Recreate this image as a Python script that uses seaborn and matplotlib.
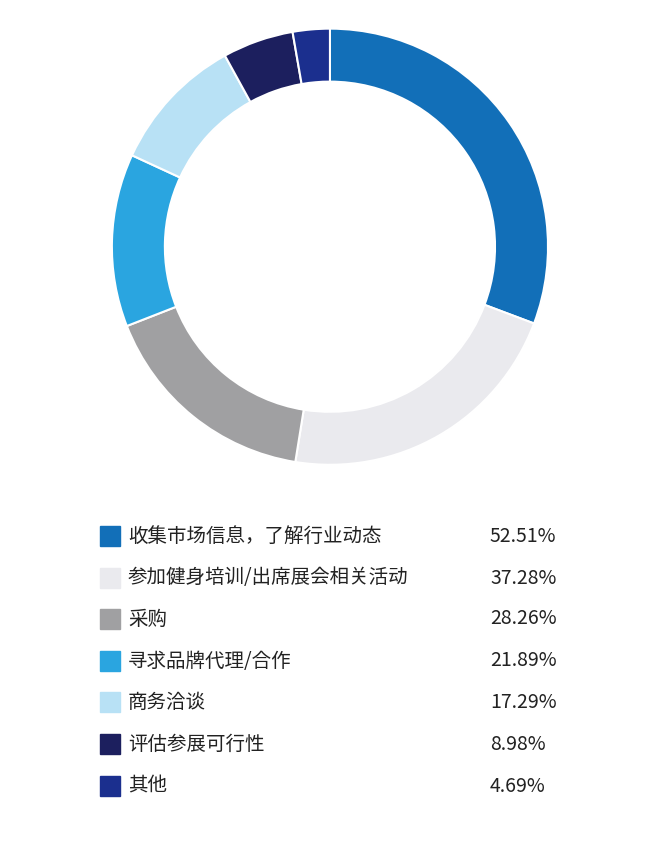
import matplotlib
matplotlib.use("Agg")
import glob
import matplotlib.pyplot as plt
import matplotlib.patches as mpatches
from matplotlib import font_manager
import seaborn as sns

categories = ["收集市场信息，了解行业动态", "参加健身培训/出席展会相关活动", "采购",
              "寻求品牌代理/合作", "商务洽谈", "评估参展可行性", "其他"]
values = [52.51, 37.28, 28.26, 21.89, 17.29, 8.98, 4.69]
labels = ["52.51%", "37.28%", "28.26%", "21.89%", "17.29%", "8.98%", "4.69%"]
colors = sns.color_palette(["#126fb8", "#eaeaee", "#a0a0a2", "#2aa5e0",
                            "#b8e1f5", "#1c1f5e", "#1b2f8e"])

sns.set_theme(style="white")
cjk_files = [f for f in glob.glob("/usr/share/fonts/**/*CJK*", recursive=True)
             if f.lower().endswith((".ttc", ".otf", ".ttf"))]
for f in cjk_files:
    try:
        font_manager.fontManager.addfont(f)
    except Exception:
        pass
fam = ["Noto Sans CJK SC", "Noto Sans CJK JP", "Noto Sans CJK TC", "Noto Sans CJK KR",
       "Noto Sans CJK", "DejaVu Sans"]
plt.rcParams["font.family"] = "sans-serif"
plt.rcParams["font.sans-serif"] = fam

fig = plt.figure(figsize=(6.72, 8.42), dpi=100)
ax = fig.add_axes([0.491 - 0.3245, 0.707 - 0.259, 0.649, 0.518])
ax.pie(values, colors=colors, startangle=90, counterclock=False, radius=1.0,
       wedgeprops=dict(width=0.243, edgecolor="white", linewidth=1.5))
ax.set_xlim(-1, 1)
ax.set_ylim(-1, 1)
ax.set_aspect("equal")
ax.axis("off")

rows_y = [536, 578, 619, 661, 702, 744, 786]
for cat, lab, col, y in zip(categories, labels, colors, rows_y):
    fy = 1 - y / 842
    fig.patches.append(mpatches.Rectangle((100 / 672, fy - 10 / 842), 20 / 672, 20 / 842,
                                          transform=fig.transFigure, color=col, figure=fig))
    fig.text(128 / 672, fy, cat, fontsize=14, va="center", ha="left", color="#222222")
    fig.text(490 / 672, fy, lab, fontsize=14, va="center", ha="left", color="#222222")

fig.savefig("out.png", dpi=100, facecolor="white")
